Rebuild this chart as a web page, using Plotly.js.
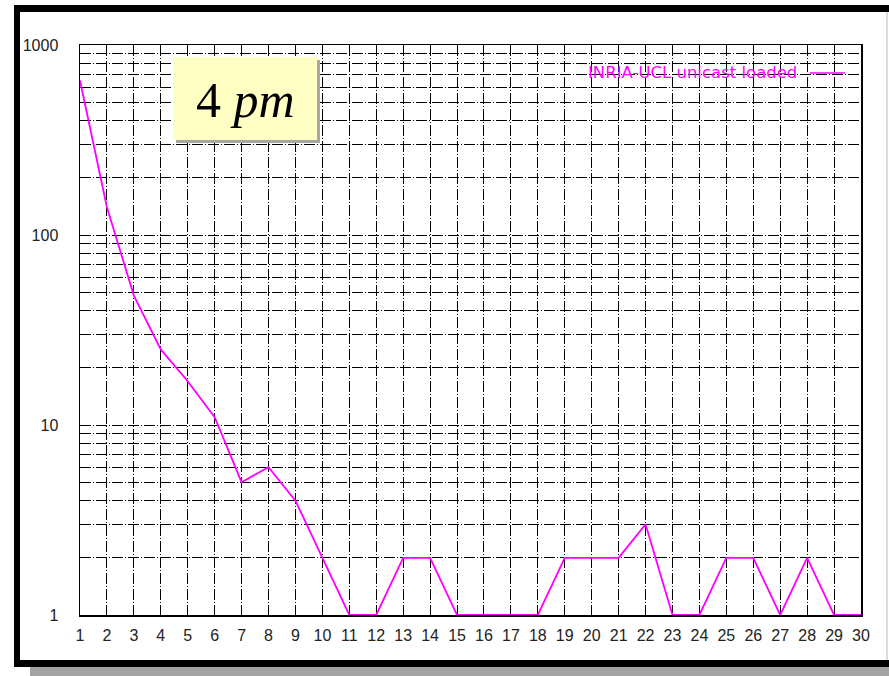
<!DOCTYPE html>
<html>
<head>
<meta charset="utf-8">
<script src="https://cdn.plot.ly/plotly-3.0.1.min.js"></script>
<style>
html,body{margin:0;padding:0;background:#fff;}
#chart{width:889px;height:676px;}
</style>
</head>
<body>
<div id="chart"></div>
<script>
const hops = [1,2,3,4,5,6,7,8,9,10,11,12,13,14,15,16,17,18,19,20,21,22,23,24,25,26,27,28,29,30];
const counts = [650,140,48,25,17,11,5,6,4,2,1,1,2,2,1,1,1,1,2,2,2,3,1,1,2,2,1,2,1,1];
const seriesName = "INRIA-UCL unicast loaded";
const boxLabel = "4 <i>pm</i>";

// pixel -> paper helpers (plot area 80..861 x, 45..615 y)
const L = 80, R = 861, T = 45, B = 615;
const px = v => (v - L) / (R - L);
const py = v => (B - v) / (B - T);

const dash = "11px,2px,1px,2px";

const shapes = [
  // outer shadow
  {type:"rect", xref:"paper", yref:"paper", x0:px(30), x1:px(889), y0:py(676), y1:py(662), fillcolor:"#a3a3a3", line:{width:0}, layer:"above"},
  // outer black frame
  {type:"rect", xref:"paper", yref:"paper", x0:px(14), x1:px(20), y0:py(667), y1:py(5), fillcolor:"#000", line:{width:0}, layer:"above"},
  {type:"rect", xref:"paper", yref:"paper", x0:px(14), x1:px(889), y0:py(12), y1:py(5), fillcolor:"#000", line:{width:0}, layer:"above"},
  {type:"rect", xref:"paper", yref:"paper", x0:px(14), x1:px(889), y0:py(667), y1:py(660), fillcolor:"#000", line:{width:0}, layer:"above"},
  {type:"line", xref:"paper", yref:"paper", x0:px(887), x1:px(887), y0:py(660), y1:py(12), line:{color:"#bbbbbb", width:1}, layer:"above"},
  // 4 pm box shadow + box
  {type:"rect", xref:"paper", yref:"paper", x0:px(176), x1:px(320), y0:py(143), y1:py(60), fillcolor:"#a8a8a0", line:{width:0}, layer:"above"},
  {type:"rect", xref:"paper", yref:"paper", x0:px(173), x1:px(317), y0:py(140), y1:py(57), fillcolor:"#ffffc4", line:{width:0}, layer:"above"},
  // legend sample line
  {type:"line", xref:"paper", yref:"paper", x0:px(810), x1:px(845), y0:py(73), y1:py(73), line:{color:"#ff00ff", width:1.6}, layer:"above"}
];

const annotations = [
  {xref:"paper", yref:"paper", x:px(245), y:py(100), text:boxLabel, showarrow:false,
   font:{family:"Liberation Serif, Times New Roman, serif", size:50, color:"#000"}, xanchor:"center", yanchor:"middle"},
  {xref:"paper", yref:"paper", x:px(799), y:py(72), text:seriesName, showarrow:false,
   font:{family:"DejaVu Sans, sans-serif", size:16.5, color:"#ff00ff"}, xanchor:"right", yanchor:"middle"}
];

const trace = {
  x: hops, y: counts, type:"scatter", mode:"lines", name: seriesName,
  line:{color:"#ff00ff", width:1.8}, showlegend:false
};

const tickFont = {family:"Liberation Sans, Arial, sans-serif", size:16, color:"#222"};

const layout = {
  width:889, height:676,
  margin:{l:L, r:889-R, t:T, b:676-B},
  paper_bgcolor:"#fff", plot_bgcolor:"#fff",
  showlegend:false,
  xaxis:{
    range:[1,30], dtick:1, tick0:1, showgrid:true, gridcolor:"#000", gridwidth:1, griddash:dash,
    showline:true, mirror:true, linecolor:"#000", linewidth:1.5, zeroline:false,
    ticks:"", ticklabelstandoff:5,
    tickfont:tickFont
  },
  yaxis:{
    type:"log", range:[0,3], dtick:1, showgrid:true, gridcolor:"#000", gridwidth:1, griddash:dash,
    showline:true, mirror:true, linecolor:"#000", linewidth:1.5, zeroline:false,
    ticks:"", ticklabelstandoff:17, exponentformat:"none",
    tickvals:[1,10,100,1000], ticktext:["1","10","100","1000"],
    tickfont:tickFont,
    minor:{dtick:"D1", showgrid:true, gridcolor:"#000", gridwidth:1, griddash:dash, ticks:""}
  },
  shapes: shapes,
  annotations: annotations
};

Plotly.newPlot("chart", [trace], layout, {displayModeBar:false, staticPlot:true});
</script>
</body>
</html>
